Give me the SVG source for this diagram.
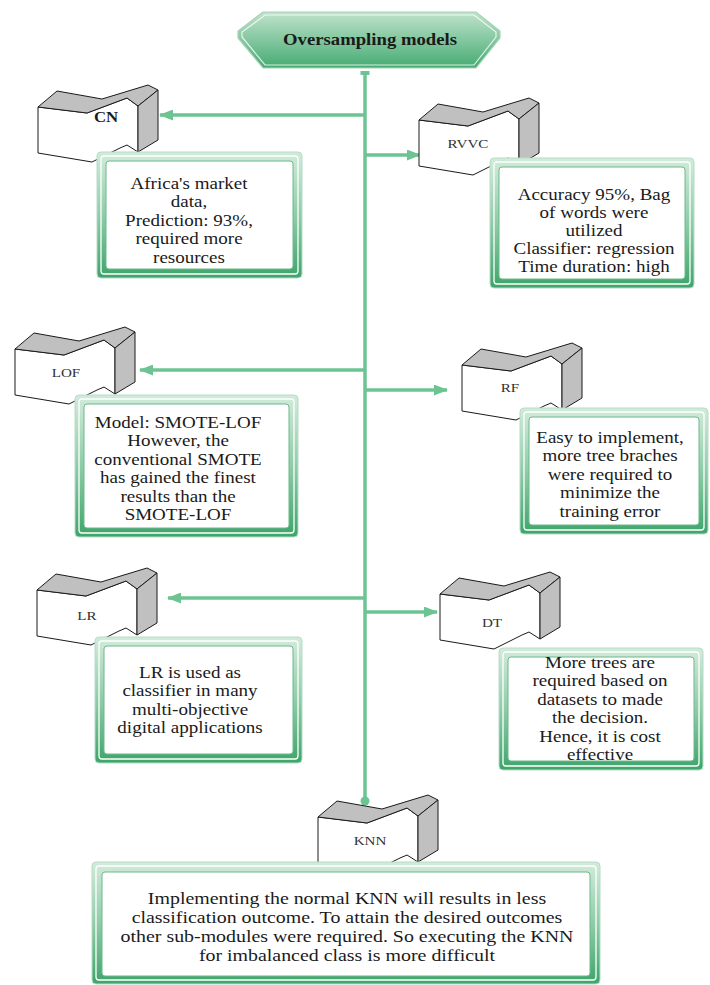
<svg xmlns="http://www.w3.org/2000/svg" xmlns:xlink="http://www.w3.org/1999/xlink" width="710" height="985" viewBox="0 0 710 985">
<style>
.conn{stroke:#6cc492;stroke-width:3.5;fill:none}
.top{fill:#c0c0c0;stroke:#1a1a1a;stroke-width:1;stroke-linejoin:miter}
.front{fill:#ffffff;stroke:#1a1a1a;stroke-width:1}
.lbl{font-family:"Liberation Serif","Times New Roman",serif;font-size:13.5px;fill:#333;text-anchor:middle}
.txt{font-family:"Liberation Serif","Times New Roman",serif;font-size:17px;fill:#1a1a1a;text-anchor:middle}
.title{font-family:"Liberation Serif","Times New Roman",serif;font-size:17px;font-weight:bold;fill:#1a1a1a;text-anchor:middle}
.fo{fill:url(#gf);stroke:#b8dcc6;stroke-width:1}
.fm{fill:none;stroke:#ffffff;stroke-width:1.3}
.fi{fill:#ffffff;stroke:#6fb88b;stroke-width:1}
</style>
<defs>
<linearGradient id="gf" x1="0" y1="0" x2="0" y2="1">
<stop offset="0" stop-color="#d2ebdb"/>
<stop offset="0.5" stop-color="#8fcca8"/>
<stop offset="1" stop-color="#3da56a"/>
</linearGradient>
<linearGradient id="gt" x1="0" y1="0" x2="0" y2="1">
<stop offset="0" stop-color="#c0e3cc"/>
<stop offset="1" stop-color="#45ab72"/>
</linearGradient>
<marker id="ah" markerUnits="userSpaceOnUse" markerWidth="14" markerHeight="11" refX="13" refY="5.5" orient="auto">
<path d="M0,0 L14,5.5 L0,11 Z" fill="#6cc492"/>
</marker>
<g id="blk">
<path class="front" d="M0,22 L49,28 L89,13 L100,21 L100,67 L89,60 L82,63 L54,77 L0,68 Z"/>
<path class="top" d="M0,22 L19,6 L64,14 L110,0 L120,5 L100,21 L89,13 L49,28 Z"/>
<path class="top" d="M100,21 L120,5 L120,55 L100,67 Z"/>
</g>
</defs>

<g id="connectors">
<line class="conn" x1="365" y1="72" x2="365" y2="801"/>
<rect x="360.5" y="71" width="9" height="4" fill="#6cc492"/>
<circle cx="365" cy="801" r="4.5" fill="#6cc492"/>
<line class="conn" x1="365" y1="115" x2="160" y2="115" marker-end="url(#ah)"/>
<line class="conn" x1="365" y1="155" x2="420" y2="155" marker-end="url(#ah)"/>
<line class="conn" x1="365" y1="370" x2="140" y2="370" marker-end="url(#ah)"/>
<line class="conn" x1="365" y1="390" x2="447" y2="390" marker-end="url(#ah)"/>
<line class="conn" x1="365" y1="598" x2="168" y2="598" marker-end="url(#ah)"/>
<line class="conn" x1="365" y1="612" x2="437" y2="612" marker-end="url(#ah)"/>
</g>

<g id="title">
<polygon points="263,12 476,12 500,31 500,38 476,68 263,68 238,38 238,31" fill="url(#gt)" stroke="#a9d3b8" stroke-width="1.2"/>
<polygon points="265,15 474,15 496,32 496,37 474,65 265,65 242,37 242,32" fill="none" stroke="#ffffff" stroke-width="1.2" opacity="0.8"/>
<g transform="translate(370,0) scale(1.1,1)"><text class="title" x="0" y="45">Oversampling models</text></g>
</g>

<g id="cn">
<use xlink:href="#blk" href="#blk" transform="translate(38,85)"/>
<g transform="translate(106,0) scale(1.12,1)"><text class="lbl" x="0" y="122" style="font-weight:bold;font-size:15px;fill:#1a1a1a">CN</text></g>
</g>
<g id="cn-box">
<rect class="fo" x="97" y="152" width="205" height="126" rx="4"/>
<rect class="fm" x="101" y="156" width="197" height="118" rx="3"/>
<rect class="fi" x="106" y="161" width="187" height="108" rx="3"/>
<g transform="translate(189,0) scale(1.12,1)">
<text class="txt" x="0" y="189">Africa's market</text>
<text class="txt" x="0" y="207.5">data,</text>
<text class="txt" x="0" y="226">Prediction: 93%,</text>
<text class="txt" x="0" y="244.5">required more</text>
<text class="txt" x="0" y="263">resources</text>
</g>
</g>

<g id="rvvc">
<use xlink:href="#blk" href="#blk" transform="translate(419,98)"/>
<g transform="translate(468,0) scale(1.12,1)"><text class="lbl" x="0" y="148">RVVC</text></g>
</g>
<g id="rvvc-box">
<rect class="fo" x="490" y="158" width="204" height="130" rx="4"/>
<rect class="fm" x="494" y="162" width="196" height="122" rx="3"/>
<rect class="fi" x="499" y="167" width="186" height="112" rx="3"/>
<g transform="translate(594,0) scale(1.12,1)">
<text class="txt" x="0" y="200">Accuracy 95%, Bag</text>
<text class="txt" x="0" y="218">of words were</text>
<text class="txt" x="0" y="236">utilized</text>
<text class="txt" x="0" y="254">Classifier: regression</text>
<text class="txt" x="0" y="272">Time duration: high</text>
</g>
</g>

<g id="lof">
<use xlink:href="#blk" href="#blk" transform="translate(15,327)"/>
<g transform="translate(66,0) scale(1.12,1)"><text class="lbl" x="0" y="377">LOF</text></g>
</g>
<g id="lof-box">
<rect class="fo" x="75" y="395" width="223" height="142" rx="4"/>
<rect class="fm" x="79" y="399" width="215" height="134" rx="3"/>
<rect class="fi" x="84" y="404" width="205" height="124" rx="3"/>
<g transform="translate(178,0) scale(1.12,1)">
<text class="txt" x="0" y="428">Model: SMOTE-LOF</text>
<text class="txt" x="0" y="446.5">However, the</text>
<text class="txt" x="0" y="465">conventional SMOTE</text>
<text class="txt" x="0" y="483.5">has gained the finest</text>
<text class="txt" x="0" y="502">results than the</text>
<text class="txt" x="0" y="520.5">SMOTE-LOF</text>
</g>
</g>

<g id="rf">
<use xlink:href="#blk" href="#blk" transform="translate(462,343)"/>
<g transform="translate(510,0) scale(1.12,1)"><text class="lbl" x="0" y="392">RF</text></g>
</g>
<g id="rf-box">
<rect class="fo" x="520" y="408" width="188" height="126" rx="4"/>
<rect class="fm" x="524" y="412" width="180" height="118" rx="3"/>
<rect class="fi" x="529" y="417" width="170" height="108" rx="3"/>
<g transform="translate(610,0) scale(1.12,1)">
<text class="txt" x="0" y="443">Easy to implement,</text>
<text class="txt" x="0" y="461.5">more tree braches</text>
<text class="txt" x="0" y="480">were required to</text>
<text class="txt" x="0" y="498.5">minimize the</text>
<text class="txt" x="0" y="517">training error</text>
</g>
</g>

<g id="lr">
<use xlink:href="#blk" href="#blk" transform="translate(37,568)"/>
<g transform="translate(87,0) scale(1.12,1)"><text class="lbl" x="0" y="620">LR</text></g>
</g>
<g id="lr-box">
<rect class="fo" x="95" y="637" width="207" height="126" rx="4"/>
<rect class="fm" x="99" y="641" width="199" height="118" rx="3"/>
<rect class="fi" x="104" y="646" width="189" height="108" rx="3"/>
<g transform="translate(190,0) scale(1.12,1)">
<text class="txt" x="0" y="678">LR is used as</text>
<text class="txt" x="0" y="696.5">classifier in many</text>
<text class="txt" x="0" y="715">multi-objective</text>
<text class="txt" x="0" y="733.5">digital applications</text>
</g>
</g>

<g id="dt">
<use xlink:href="#blk" href="#blk" transform="translate(440,572)"/>
<g transform="translate(492,0) scale(1.12,1)"><text class="lbl" x="0" y="627">DT</text></g>
</g>
<g id="dt-box">
<rect class="fo" x="499" y="648" width="204" height="122" rx="4"/>
<rect class="fm" x="503" y="652" width="196" height="114" rx="3"/>
<rect class="fi" x="508" y="657" width="186" height="104" rx="3"/>
<g transform="translate(600,0) scale(1.12,1)">
<text class="txt" x="0" y="668">More trees are</text>
<text class="txt" x="0" y="686.5">required based on</text>
<text class="txt" x="0" y="705">datasets to made</text>
<text class="txt" x="0" y="723.5">the decision.</text>
<text class="txt" x="0" y="742">Hence, it is cost</text>
<text class="txt" x="0" y="760.5">effective</text>
</g>
</g>

<g id="knn">
<use xlink:href="#blk" href="#blk" transform="translate(318,795)"/>
<g transform="translate(370,0) scale(1.12,1)"><text class="lbl" x="0" y="845">KNN</text></g>
</g>
<g id="knn-box">
<rect class="fo" x="92" y="862" width="508" height="122" rx="4"/>
<rect class="fm" x="96" y="866" width="500" height="114" rx="3"/>
<rect class="fi" x="102" y="872" width="488" height="104" rx="3"/>
<g transform="translate(347,0) scale(1.17,1)">
<text class="txt" x="0" y="904">Implementing the normal KNN will results in less</text>
<text class="txt" x="0" y="923">classification outcome. To attain the desired outcomes</text>
<text class="txt" x="0" y="942">other sub-modules were required. So executing the KNN</text>
<text class="txt" x="0" y="961">for imbalanced class is more difficult</text>
</g>
</g>
</svg>
